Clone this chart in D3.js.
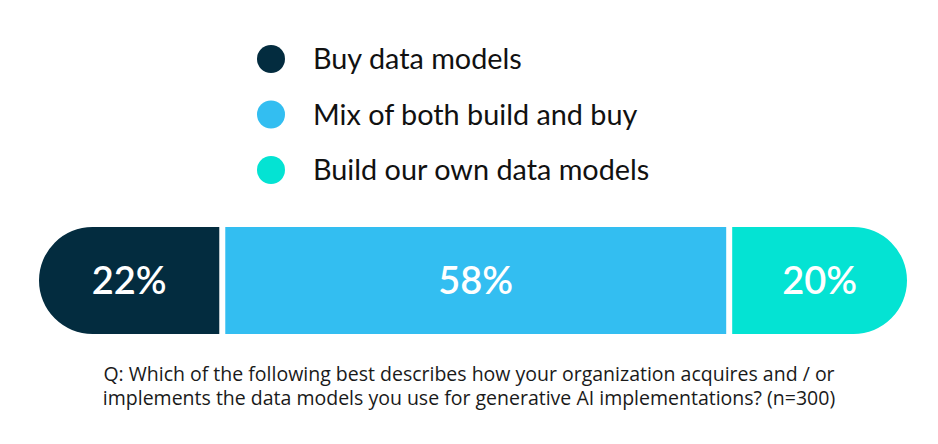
<!DOCTYPE html>
<html>
<head>
<meta charset="utf-8">
<script src="https://cdn.jsdelivr.net/npm/d3@7"></script>
<style>
  body { margin: 0; background: #fff; }
  text { font-family: Lato, "Open Sans", sans-serif; }
</style>
</head>
<body>
<div id="chart"></div>
<script>
//Data
const categories = ['Buy data models', 'Mix of both build and buy', 'Build our own data models'];
const values = [22, 58, 20];
const valueLabels = ['22%', '58%', '20%'];
const question = [
  'Q: Which of the following best describes how your organization acquires and / or',
  'implements the data models you use for generative AI implementations? (n=300)'
];

//Visual
const width = 938;
const height = 444;
const colors = ['#032c3f', '#33bef1', '#04e3d3'];
const gap = 6;
const barTop = 227;
const barHeight = 107;
const radius = barHeight / 2;
// first segment starts at the bar's left edge
const barLeft = 39;

const svg = d3.select('#chart')
  .append('svg')
  .attr('width', width)
  .attr('height', height);

// legend
const legendY = d3.scalePoint()
  .domain(categories)
  .range([59, 170]);

const legend = svg.selectAll('g.legend')
  .data(categories)
  .enter()
  .append('g')
  .attr('class', 'legend')
  .attr('transform', d => `translate(271,${legendY(d)})`);

legend.append('circle')
  .attr('r', 14)
  .attr('fill', (d, i) => colors[i]);

legend.append('text')
  .text(d => d)
  .attr('x', 42)
  .attr('dy', '.35em')
  .attr('fill', '#111')
  .style('font-size', '28.8px');

// stacked bar
const total = d3.sum(values);
const starts = d3.cumsum([0, ...values]);
const last = values.length - 1;

const xScale = d3.scaleLinear()
  .domain([0, total])
  .range([33, 907]);

function segPath(x0, x1, roundLeft, roundRight) {
  const y0 = barTop, y1 = barTop + barHeight;
  const p = d3.path();
  if (roundLeft) {
    p.moveTo(x0 + radius, y0);
  } else {
    p.moveTo(x0, y0);
  }
  if (roundRight) {
    p.lineTo(x1 - radius, y0);
    p.arc(x1 - radius, y0 + radius, radius, -Math.PI / 2, Math.PI / 2);
  } else {
    p.lineTo(x1, y0);
    p.lineTo(x1, y1);
  }
  if (roundLeft) {
    p.lineTo(x0 + radius, y1);
    p.arc(x0 + radius, y0 + radius, radius, Math.PI / 2, Math.PI * 3 / 2);
  } else {
    p.lineTo(x0, y1);
  }
  p.closePath();
  return p.toString();
}

const segX0 = (d, i) => i === 0 ? barLeft : xScale(starts[i]);
const segX1 = (d, i) => xScale(starts[i] + d) - (i === last ? 0 : gap);

svg.selectAll('path.seg')
  .data(values)
  .enter()
  .append('path')
  .attr('class', 'seg')
  .attr('d', (d, i) => segPath(segX0(d, i), segX1(d, i), i === 0, i === last))
  .attr('fill', (d, i) => colors[i]);

svg.selectAll('text.val')
  .data(values)
  .enter()
  .append('text')
  .attr('class', 'val')
  .text((d, i) => valueLabels[i])
  .attr('x', (d, i) => (segX0(d, i) + segX1(d, i)) / 2)
  .attr('y', barTop + barHeight / 2)
  .attr('dy', '.35em')
  .attr('text-anchor', 'middle')
  .attr('fill', '#fff')
  .style('font-size', '38px')
  .style('font-weight', '600');

// question
svg.selectAll('text.q')
  .data(question)
  .enter()
  .append('text')
  .attr('class', 'q')
  .text(d => d)
  .attr('x', width / 2)
  .attr('y', (d, i) => 381 + i * 24)
  .attr('text-anchor', 'middle')
  .attr('fill', '#1a1a1a')
  .style('font-family', '"Open Sans", sans-serif')
  .style('font-size', '19.5px');
</script>
</body>
</html>
